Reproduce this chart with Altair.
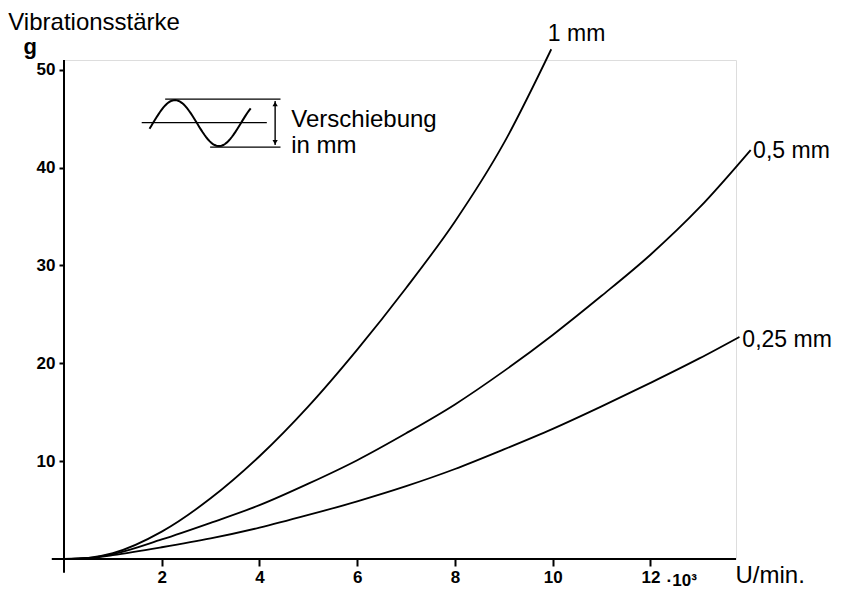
import altair as alt
import pandas as pd
import numpy as np

# ---- data (x in 10^3 U/min, y in g) ----
x_1mm = [0, 0.5, 1, 2, 3, 4, 5, 6, 7, 8, 9, 9.97]
y_1mm = [0, 0.12, 0.6, 2.8, 6.2, 10.5, 15.6, 21.4, 27.7, 34.5, 42.5, 52.1]

x_05 = [0, 0.5, 1, 2, 3, 4, 5, 6, 7, 8, 9, 10, 11, 12, 13, 14.05]
y_05 = [0, 0.1, 0.5, 2.0, 3.7, 5.5, 7.7, 10.1, 12.85, 15.8, 19.2, 22.9, 26.9, 31.1, 35.9, 41.8]

x_025 = [0, 0.5, 1, 2, 3, 4, 5, 6, 7, 8, 9, 10, 11, 12, 13, 13.82]
y_025 = [0, 0.08, 0.4, 1.2, 2.1, 3.2, 4.5, 5.9, 7.45, 9.2, 11.2, 13.3, 15.6, 18.0, 20.5, 22.7]

x_ticks = [2, 4, 6, 8, 10, 12]
y_ticks = [10, 20, 30, 40, 50]

FONT = "Liberation Sans"

rows = []
for name, xs_, ys_ in [("1 mm", x_1mm, y_1mm), ("0,5 mm", x_05, y_05), ("0,25 mm", x_025, y_025)]:
    for a, b in zip(xs_, ys_):
        rows.append({"series": name, "x": a, "y": b})
curves_df = pd.DataFrame(rows)

xs = alt.Scale(domain=[0, 13.75], nice=False, zero=False)
ys = alt.Scale(domain=[0, 51], nice=False, zero=False)

curves = alt.Chart(curves_df).mark_line(
    interpolate="monotone", color="black", strokeWidth=1.8
).encode(
    x=alt.X("x:Q", scale=xs,
            axis=alt.Axis(values=x_ticks, domain=False, grid=False, title=None,
                          tickSize=7, tickWidth=2, tickColor="black",
                          labelFont=FONT, labelFontSize=17, labelFontWeight="bold",
                          labelColor="black", labelPadding=3)),
    y=alt.Y("y:Q", scale=ys,
            axis=alt.Axis(values=y_ticks, domain=False, grid=False, title=None,
                          tickSize=5, tickWidth=2, tickColor="black",
                          labelFont=FONT, labelFontSize=17, labelFontWeight="bold",
                          labelColor="black", labelPadding=4)),
    detail="series:N",
)

# axis lines (slightly extended past origin as in the drawing)
axis_df = pd.DataFrame([
    {"x": -0.25, "x2": 13.75, "y": 0, "y2": 0},
    {"x": 0, "x2": 0, "y": -1.4, "y2": 51},
])
axes = alt.Chart(axis_df).mark_rule(color="black", strokeWidth=2).encode(
    x=alt.X("x:Q", scale=xs), x2="x2:Q", y=alt.Y("y:Q", scale=ys), y2="y2:Q"
)

# ---- inset glyph (sine with displacement marker) ----
sx = np.linspace(1.75, 3.82, 60)
sine_df = pd.DataFrame({"x": sx, "y": 44.55 + 2.35 * np.sin(2 * np.pi * (sx - 1.82) / 1.8)})
sine = alt.Chart(sine_df).mark_line(color="black", strokeWidth=2).encode(
    x=alt.X("x:Q", scale=xs), y=alt.Y("y:Q", scale=ys)
)
glyph_lines_df = pd.DataFrame([
    {"x": 2.07, "x2": 4.43, "y": 47.0, "y2": 47.0},
    {"x": 1.59, "x2": 4.15, "y": 44.6, "y2": 44.6},
    {"x": 2.99, "x2": 4.43, "y": 42.1, "y2": 42.1},
    {"x": 4.32, "x2": 4.32, "y": 42.3, "y2": 46.8},
])
glyph_lines = alt.Chart(glyph_lines_df).mark_rule(color="black", strokeWidth=1.4).encode(
    x=alt.X("x:Q", scale=xs), x2="x2:Q", y=alt.Y("y:Q", scale=ys), y2="y2:Q"
)
arrow_df = pd.DataFrame([
    {"x": 4.32, "y": 46.5, "shape": "triangle-up"},
    {"x": 4.32, "y": 42.6, "shape": "triangle-down"},
])
arrows = alt.Chart(arrow_df).mark_point(filled=True, color="black", size=28, opacity=1).encode(
    x=alt.X("x:Q", scale=xs), y=alt.Y("y:Q", scale=ys),
    shape=alt.Shape("shape:N", scale=None, legend=None),
)

# ---- texts ----
big_text_df = pd.DataFrame([
    {"t": "Vibrationsstärke", "x": -1.14, "y": 54.1},
    {"t": "Verschiebung", "x": 4.65, "y": 44.2},
    {"t": "in  mm", "x": 4.65, "y": 41.5},
    {"t": "U/min.", "x": 13.74, "y": -2.45},
])
big_text = alt.Chart(big_text_df).mark_text(
    font=FONT, fontSize=24, align="left", baseline="alphabetic", color="black"
).encode(x=alt.X("x:Q", scale=xs), y=alt.Y("y:Q", scale=ys), text="t:N")

curve_label_df = pd.DataFrame([
    {"t": "1 mm", "x": 9.90, "y": 52.9},
    {"t": "0,5 mm", "x": 14.1, "y": 41.0},
    {"t": "0,25 mm", "x": 13.88, "y": 21.7},
])
curve_labels = alt.Chart(curve_label_df).mark_text(
    font=FONT, fontSize=23, align="left", baseline="alphabetic", color="black"
).encode(x=alt.X("x:Q", scale=xs), y=alt.Y("y:Q", scale=ys), text="t:N")

g_text = alt.Chart(pd.DataFrame([{"t": "g", "x": -0.69, "y": 51.6}])).mark_text(
    font=FONT, fontSize=22, fontWeight="bold", align="center", baseline="alphabetic", color="black"
).encode(x=alt.X("x:Q", scale=xs), y=alt.Y("y:Q", scale=ys), text="t:N")

exp_text = alt.Chart(pd.DataFrame([{"t": "·10³", "x": 12.33, "y": -2.75}])).mark_text(
    font=FONT, fontSize=17, fontWeight="bold", align="left", baseline="alphabetic", color="black"
).encode(x=alt.X("x:Q", scale=xs), y=alt.Y("y:Q", scale=ys), text="t:N")

chart = alt.layer(
    axes, curves, sine, glyph_lines, arrows, big_text, curve_labels, g_text, exp_text
).properties(
    width=672, height=499,
    autosize=alt.AutoSizeParams(type="none"),
    padding={"left": 56, "top": 52, "right": 99, "bottom": 31},
).configure_view(stroke=None).configure(background="white")

chart.save("out.html", embed_options={"renderer": "svg", "actions": False})
